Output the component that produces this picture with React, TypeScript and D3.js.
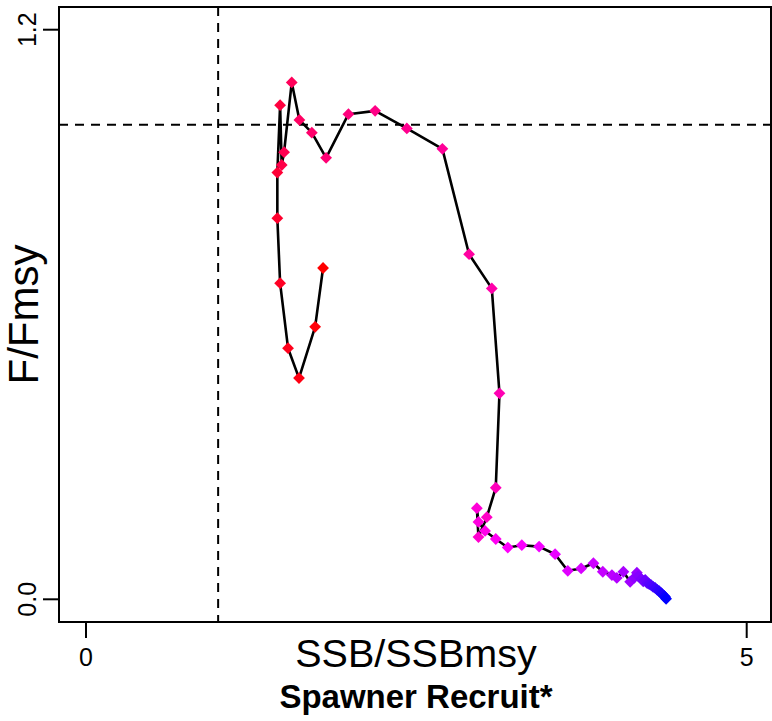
import React from "react";
import * as d3 from "d3";

const ssb: number[] = [
  1.794, 1.734, 1.612, 1.529, 1.469, 1.448, 1.448, 1.469, 1.481, 1.499,
  1.557, 1.615, 1.709, 1.817, 1.986, 2.188, 2.428, 2.697, 2.899, 3.071,
  3.129, 3.101, 3.033, 2.970, 2.958, 2.970, 3.020, 3.101, 3.192, 3.298,
  3.429, 3.550, 3.646, 3.747, 3.840, 3.911, 3.980, 4.017, 4.067, 4.118,
  4.169, 4.148, 4.179, 4.202, 4.217, 4.232, 4.247, 4.262, 4.277, 4.292,
  4.307, 4.323, 4.338, 4.353, 4.360, 4.375, 4.383, 4.390,
];
const fRatio: number[] = [
  0.698, 0.574, 0.466, 0.529, 0.666, 0.803, 0.899, 1.041, 0.915, 0.942,
  1.089, 1.010, 0.983, 0.930, 1.022, 1.029, 0.992, 0.949, 0.727, 0.655,
  0.434, 0.235, 0.173, 0.131, 0.192, 0.163, 0.144, 0.127, 0.109, 0.114,
  0.111, 0.095, 0.060, 0.065, 0.076, 0.058, 0.051, 0.045, 0.058, 0.037,
  0.056, 0.045, 0.049, 0.043, 0.038, 0.041, 0.034, 0.032, 0.030, 0.026,
  0.024, 0.020, 0.017, 0.013, 0.011, 0.007, 0.005, 0.001,
];
const xTicks: number[] = [0, 5];
const yTicks: number[] = [0, 1.2];
const yTickLabels: string[] = ["0.0", "1.2"];
const refX = 1;
const refY = 1;

export default function App() {
  const W = 772, H = 721;
  const box = { l: 59, r: 771, t: 7, b: 622 };
  const x = d3.scaleLinear().domain([0, 5]).range([86, 746.7]);
  const y = d3.scaleLinear().domain([0, 1.2]).range([599.3, 29.7]);
  const pts = ssb.map((v, i) => [v, fRatio[i]] as [number, number]);
  const line = d3.line<[number, number]>().x(d => x(d[0])).y(d => y(d[1]));
  const color = d3.interpolateHsl("red", "blue");
  const n = pts.length;
  const font = "Liberation Sans, Arial, sans-serif";
  const s = 5.9;
  return (
    <svg width={W} height={H} style={{ position: "absolute", left: 0, top: 0, background: "#fff" }}
      fontFamily={font}>
      <rect x={0} y={0} width={W} height={H} fill="#fff" />
      <line x1={x(refX)} x2={x(refX)} y1={box.t} y2={box.b} stroke="#000" strokeWidth={2} strokeDasharray="9,7" />
      <line x1={box.l} x2={box.r} y1={y(refY)} y2={y(refY)} stroke="#000" strokeWidth={2} strokeDasharray="9,7" />
      <path d={line(pts) || ""} fill="none" stroke="#000" strokeWidth={2.6} strokeLinejoin="round" />
      {pts.map((p, i) => {
        const cx = x(p[0]), cy = y(p[1]);
        return (
          <path key={i} d={`M${cx},${cy - s}L${cx + s},${cy}L${cx},${cy + s}L${cx - s},${cy}Z`}
            fill={color(i / (n - 1))} />
        );
      })}
      <rect x={box.l} y={box.t} width={box.r - box.l} height={box.b - box.t} fill="none" stroke="#000" strokeWidth={2} />
      {xTicks.map(t => (
        <g key={"x" + t}>
          <line x1={x(t)} x2={x(t)} y1={box.b} y2={box.b + 16} stroke="#000" strokeWidth={2} />
          <text x={x(t)} y={666} fontSize={25} textAnchor="middle">{String(t)}</text>
        </g>
      ))}
      {yTicks.map((t, i) => (
        <g key={"y" + t}>
          <line x1={box.l - 16} x2={box.l} y1={y(t)} y2={y(t)} stroke="#000" strokeWidth={2} />
          <text transform={`translate(36,${y(t)}) rotate(-90)`} fontSize={25} textAnchor="middle">{yTickLabels[i]}</text>
        </g>
      ))}
      <text x={416} y={667} fontSize={39.5} textAnchor="middle">SSB/SSBmsy</text>
      <text transform={`translate(38,${(box.t + box.b) / 2}) rotate(-90)`} fontSize={42} textAnchor="middle">F/Fmsy</text>
      <text x={416} y={708} fontSize={33} fontWeight="bold" textAnchor="middle">Spawner Recruit*</text>
    </svg>
  );
}
